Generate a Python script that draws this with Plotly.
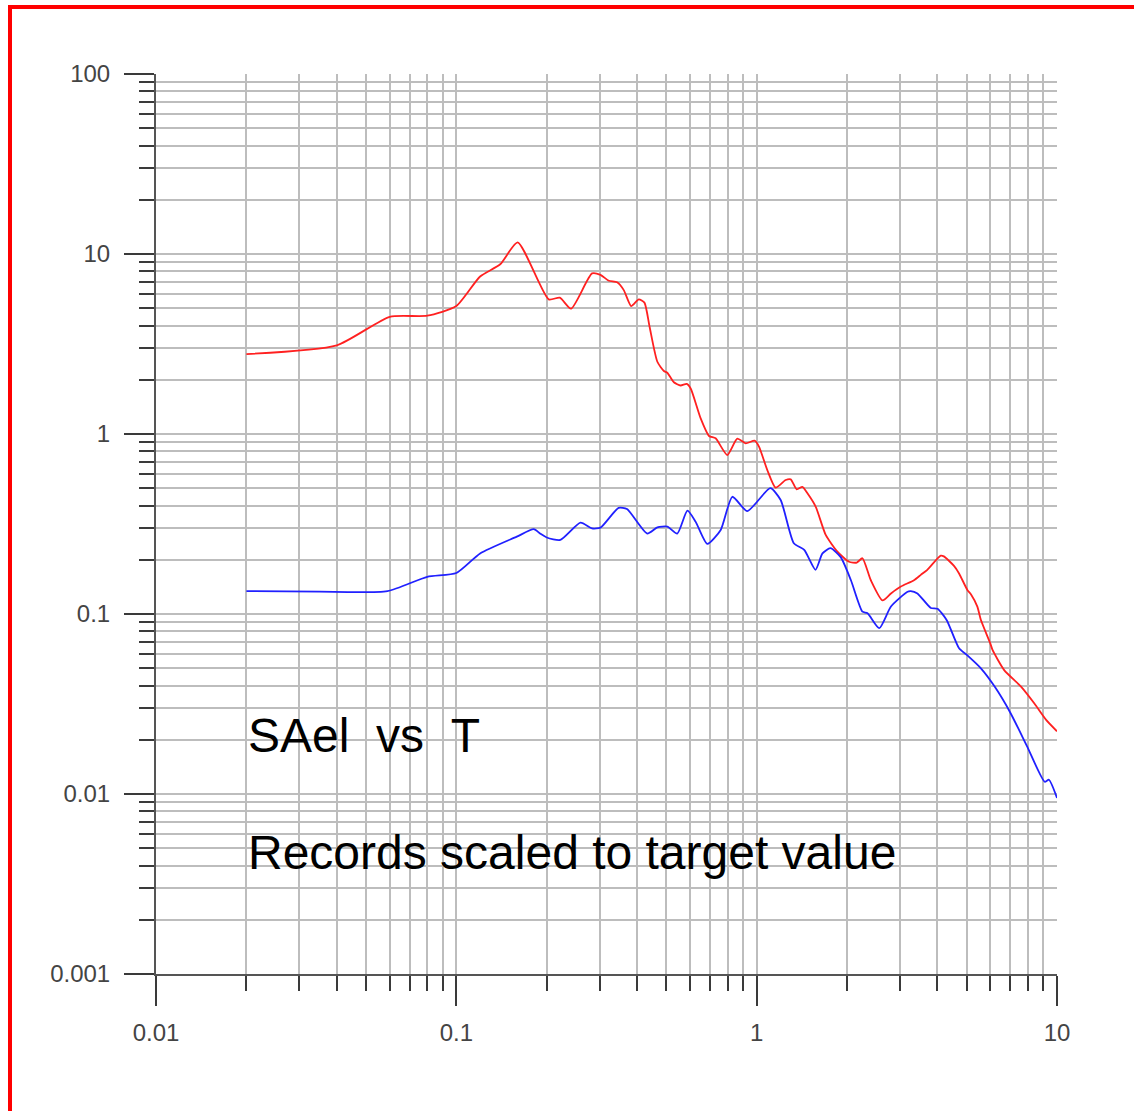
import plotly.graph_objects as go

# ---- data ----
red_T = [0.02, 0.04, 0.06, 0.08, 0.10, 0.12, 0.14, 0.16, 0.203, 0.221, 0.241,
         0.283, 0.302, 0.322, 0.343, 0.361, 0.382, 0.405, 0.423, 0.44, 0.467,
         0.491, 0.504, 0.53, 0.558, 0.585, 0.603, 0.651, 0.694, 0.73, 0.798,
         0.862, 0.919, 0.985, 1.018, 1.085, 1.157, 1.249, 1.298, 1.359, 1.42,
         1.476, 1.573, 1.698, 1.857, 2.03, 2.154, 2.25, 2.4, 2.625, 2.8, 3.02,
         3.34, 3.52, 3.7, 4.1, 4.2, 4.54, 4.72, 5.03, 5.18, 5.43, 5.58, 6.0,
         6.1, 6.67, 7.59, 8.41, 9.2, 10.0]
red_SA = [2.78, 3.11, 4.48, 4.54, 5.14, 7.5, 8.77, 11.6, 5.6, 5.72, 4.97,
          7.8, 7.66, 7.1, 6.96, 6.3, 5.14, 5.6, 5.37, 3.94, 2.52,
          2.24, 2.19, 1.94, 1.86, 1.90, 1.79, 1.22, 0.975, 0.946, 0.764,
          0.942, 0.888, 0.918, 0.85, 0.63, 0.503, 0.555, 0.56, 0.493, 0.509,
          0.468, 0.394, 0.275, 0.222, 0.195, 0.193, 0.204, 0.154, 0.119, 0.130, 0.142,
          0.154, 0.165, 0.176, 0.211, 0.209, 0.185, 0.168, 0.136, 0.128, 0.110, 0.0926, 0.0685,
          0.0631, 0.0488, 0.0395, 0.0318, 0.0258, 0.0223]

blue_T = [0.02, 0.035, 0.059, 0.08, 0.10, 0.12, 0.159, 0.181, 0.19, 0.20,
          0.222, 0.259, 0.283, 0.302, 0.347, 0.370, 0.432, 0.467, 0.504, 0.544,
          0.588, 0.626, 0.685, 0.759, 0.83, 0.93, 1.11, 1.202, 1.33, 1.44,
          1.57, 1.656, 1.76, 1.905, 2.06, 2.25, 2.34, 2.56, 2.8, 3.18, 3.26,
          3.43, 3.8, 4.0, 4.29, 4.72, 5.03, 5.58, 6.2, 7.0, 7.95, 9.1, 9.4, 10.0]
blue_SA = [0.134, 0.133, 0.134, 0.161, 0.169, 0.217, 0.269, 0.296, 0.28, 0.266,
           0.258, 0.322, 0.299, 0.302, 0.389, 0.383, 0.28, 0.303, 0.306, 0.28,
           0.375, 0.326, 0.245, 0.293, 0.448, 0.373, 0.50, 0.43, 0.247, 0.227,
           0.176, 0.217, 0.232, 0.207, 0.154, 0.103, 0.101, 0.0834, 0.11, 0.133, 0.134,
           0.13, 0.108, 0.107, 0.0927, 0.0645, 0.0589, 0.0499, 0.0395, 0.0282, 0.0184, 0.0117, 0.0120, 0.0095]

x_major = [0.01, 0.1, 1, 10]
x_major_text = ["0.01", "0.1", "1", "10"]
y_major = [0.001, 0.01, 0.1, 1, 10, 100]
y_major_text = ["0.001", "0.01", "0.1", "1", "10", "100"]

x_minor = [m * d for d in (0.01, 0.1, 1) for m in range(2, 10)]
y_minor = [m * d for d in (0.001, 0.01, 0.1, 1, 10) for m in range(2, 10)]

title_line1 = "SAel\u00a0\u00a0vs\u00a0\u00a0T"
title_line2 = "Records scaled to target value"

GRID = "#bdbdbd"
TICK = "#3a3a3a"
FONT = "Liberation Sans, Arial, sans-serif"

fig = go.Figure()
fig.add_trace(go.Scatter(x=red_T, y=red_SA, mode="lines",
                         line=dict(color="#ff2020", width=1.8, shape="spline", smoothing=0.6),
                         showlegend=False))
fig.add_trace(go.Scatter(x=blue_T, y=blue_SA, mode="lines",
                         line=dict(color="#2020ff", width=1.8, shape="spline", smoothing=0.6),
                         showlegend=False))

axis_common = dict(
    type="log",
    showline=True, linecolor="#555555", linewidth=2,
    ticks="outside", ticklen=30, tickwidth=2, tickcolor=TICK,
    showgrid=True, gridcolor=GRID, gridwidth=1.5,
    zeroline=False,
    tickfont=dict(family=FONT, size=24, color="#444444"),
    tickmode="array",
)

fig.update_xaxes(**axis_common, range=[-2, 1], tickvals=x_major, ticktext=x_major_text,
                 ticklabelstandoff=6,
                 minor=dict(tickmode="array", tickvals=x_minor, ticks="outside", ticklen=15,
                            tickwidth=2, tickcolor=TICK, showgrid=True, gridcolor=GRID,
                            gridwidth=1.5))
fig.update_yaxes(**axis_common, range=[-3, 2], tickvals=y_major, ticktext=y_major_text,
                 ticklabelstandoff=9,
                 minor=dict(tickmode="array", tickvals=y_minor, ticks="outside", ticklen=15,
                            tickwidth=2, tickcolor=TICK, showgrid=True, gridcolor=GRID,
                            gridwidth=1.5))

L, R, T, B = 156, 77, 74, 137
W, H = 1134, 1111
pw, ph = W - L - R, H - T - B

def px(xp):
    return (xp - L) / pw

def py(yp):
    return (H - B - yp) / ph

fig.add_annotation(text=title_line1, xref="paper", yref="paper", x=px(246), y=py(735),
                   xanchor="left", yanchor="middle", showarrow=False,
                   font=dict(family=FONT, size=48, color="black"))
fig.add_annotation(text=title_line2, xref="paper", yref="paper", x=px(246), y=py(852),
                   xanchor="left", yanchor="middle", showarrow=False,
                   font=dict(family=FONT, size=48, color="black"))

# red frame around the picture (left and top visible)
fig.add_shape(type="rect", xref="paper", yref="paper",
              x0=px(10), x1=px(1160), y0=py(1140), y1=py(7),
              line=dict(color="red", width=4), fillcolor="rgba(0,0,0,0)", layer="above")

fig.update_layout(width=W, height=H, autosize=False,
                  margin=dict(l=L, r=R, t=T, b=B, pad=0),
                  paper_bgcolor="white", plot_bgcolor="white",
                  showlegend=False)

fig.write_html("out.html")
